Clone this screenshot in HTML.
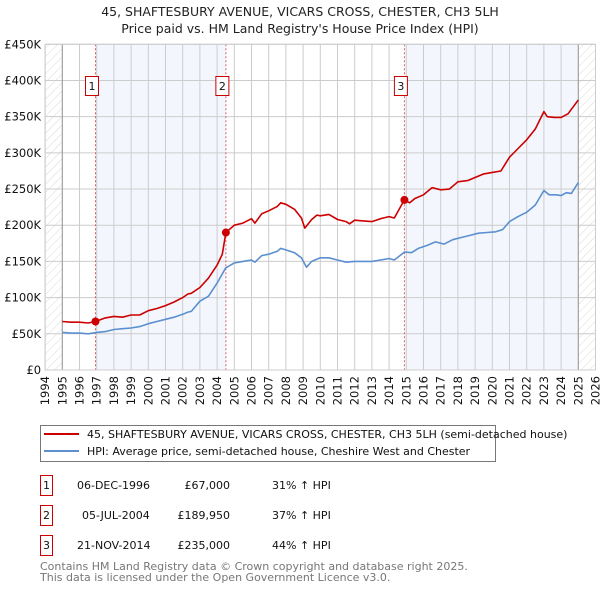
<!DOCTYPE html>
<html><head><meta charset="utf-8"><style>
body{margin:0;background:#fff;font-family:"Liberation Sans","DejaVu Sans",sans-serif;}
svg{display:block}
text{font-family:"DejaVu Sans","Liberation Sans",sans-serif;}
</style></head><body>
<svg id="chart" width="600" height="590" viewBox="0 0 600 590">
<defs>
<pattern id="hatch" width="6" height="6" patternUnits="userSpaceOnUse" patternTransform="rotate(45)">
<rect width="6" height="6" fill="#fff"/><line x1="0" y1="0" x2="0" y2="6" stroke="#d0d0d0" stroke-width="0.8"/></pattern>
</defs>
<text x="300" y="16" text-anchor="middle" font-size="12.5" fill="#222">45, SHAFTESBURY AVENUE, VICARS CROSS, CHESTER, CH3 5LH</text>
<text x="300" y="33" text-anchor="middle" font-size="12.5" fill="#222">Price paid vs. HM Land Registry's House Price Index (HPI)</text>
<g id="plot"></g>
<g>
<rect x="40.5" y="425.5" width="455" height="36" fill="#fff" stroke="#777"/>
<line x1="44" y1="434" x2="79" y2="434" stroke="#cc0000" stroke-width="2"/>
<text x="87" y="438" font-size="11" fill="#111">45, SHAFTESBURY AVENUE, VICARS CROSS, CHESTER, CH3 5LH (semi-detached house)</text>
<line x1="44" y1="451" x2="79" y2="451" stroke="#5b8fd0" stroke-width="2"/>
<text x="87" y="455" font-size="11" fill="#111">HPI: Average price, semi-detached house, Cheshire West and Chester</text>
</g>
<g id="table" font-size="11" fill="#111">
<rect x="40.5" y="475.5" width="12" height="20" fill="#fff" stroke="#cc0000"/><text x="46.5" y="489" text-anchor="middle">1</text>
<text x="77" y="489">06-DEC-1996</text><text x="230" y="489" text-anchor="end">£67,000</text><text x="272" y="489">31% ↑ HPI</text>
<rect x="40.5" y="505.5" width="12" height="20" fill="#fff" stroke="#cc0000"/><text x="46.5" y="519" text-anchor="middle">2</text>
<text x="82" y="519">05-JUL-2004</text><text x="230" y="519" text-anchor="end">£189,950</text><text x="272" y="519">37% ↑ HPI</text>
<rect x="40.5" y="535.5" width="12" height="20" fill="#fff" stroke="#cc0000"/><text x="46.5" y="549" text-anchor="middle">3</text>
<text x="77" y="549">21-NOV-2014</text><text x="230" y="549" text-anchor="end">£235,000</text><text x="272" y="549">44% ↑ HPI</text>
</g>
<text x="40" y="570" font-size="11" fill="#777">Contains HM Land Registry data © Crown copyright and database right 2025.</text>
<text x="40" y="581" font-size="11" fill="#777">This data is licensed under the Open Government Licence v3.0.</text>
</svg>
<script>
const yTicks=[0,50,100,150,200,250,300,350,400,450];
const yTickLabels=["£0","£50K","£100K","£150K","£200K","£250K","£300K","£350K","£400K","£450K"];
const xYears=[1994,1995,1996,1997,1998,1999,2000,2001,2002,2003,2004,2005,2006,2007,2008,2009,2010,2011,2012,2013,2014,2015,2016,2017,2018,2019,2020,2021,2022,2023,2024,2025,2026];
const saleDates=[1996.93,2004.51,2014.89];
const salePrices=[67,189.95,235];
const saleLabels=["1","2","3"];
const redT=[1995.0,1995.5,1996.0,1996.5,1996.93,1997.5,1998.0,1998.5,1999.0,1999.5,2000.0,2000.5,2001.0,2001.5,2002.0,2002.3,2002.5,2003.0,2003.5,2004.0,2004.3,2004.51,2005.0,2005.5,2006.0,2006.2,2006.6,2007.0,2007.5,2007.7,2008.0,2008.5,2008.9,2009.1,2009.5,2009.8,2010.0,2010.5,2011.0,2011.5,2011.7,2012.0,2012.5,2013.0,2013.5,2014.0,2014.3,2014.89,2015.2,2015.5,2016.0,2016.5,2017.0,2017.5,2018.0,2018.6,2019.0,2019.5,2020.0,2020.5,2021.0,2021.5,2022.0,2022.5,2023.0,2023.2,2023.6,2024.0,2024.4,2025.0];
const redV=[67,66,66,65,67,72,74,73,76,76,82,85,89,94,100,105,106,114,127,145,160,190,200,203,209,203,216,220,226,231,229,222,210,196,208,214,213,215,208,205,202,207,206,205,209,212,210,235,231,237,242,252,249,250,260,262,266,271,273,275,294,306,318,333,357,350,349,349,354,373];
const blueT=[1995.0,1995.5,1996.0,1996.5,1997.0,1997.5,1998.0,1998.5,1999.0,1999.5,2000.0,2000.5,2001.0,2001.5,2002.0,2002.3,2002.5,2003.0,2003.5,2004.0,2004.5,2005.0,2005.5,2006.0,2006.2,2006.6,2007.0,2007.5,2007.7,2008.0,2008.5,2008.9,2009.2,2009.5,2010.0,2010.5,2011.0,2011.5,2012.0,2012.5,2013.0,2013.5,2014.0,2014.3,2014.9,2015.3,2015.7,2016.2,2016.7,2017.2,2017.7,2018.2,2018.7,2019.2,2019.7,2020.2,2020.6,2021.0,2021.5,2022.0,2022.5,2023.0,2023.3,2023.7,2024.0,2024.3,2024.6,2025.0];
const blueV=[52,51,51,50,52,53,56,57,58,60,64,67,70,73,77,80,81,95,102,120,141,148,150,152,149,158,160,164,168,166,162,155,142,150,155,155,152,149,150,150,150,152,154,152,163,162,168,172,177,174,180,183,186,189,190,191,194,205,212,218,228,248,242,242,241,245,244,259];
const NS="http://www.w3.org/2000/svg";
const L=45.1,R=595.5,T=44.3,B=370;
const x=t=>L+(t-1994)*(R-L)/32;
const y=v=>B-v*(B-T)/450;
const g=document.getElementById('plot');
function mk(tag,attrs,parent){const e=document.createElementNS(NS,tag);for(const k in attrs)e.setAttribute(k,attrs[k]);(parent||g).appendChild(e);return e;}
let r=mk('rect',{x:x(saleDates[0]),y:T,width:x(saleDates[1])-x(saleDates[0]),height:B-T,fill:'#eef3fc',opacity:0.7});


r=mk('rect',{x:x(saleDates[2]),y:T,width:x(2025)-x(saleDates[2]),height:B-T,fill:'#eef3fc',opacity:0.7});


r=mk('rect',{x:x(1994),y:T,width:x(1995)-x(1994),height:B-T,fill:'url(#hatch)'});


r=mk('rect',{x:x(2025),y:T,width:x(2026)-x(2025),height:B-T,fill:'url(#hatch)'});


xYears.forEach(yr=>{
 const l=mk('line',{x1:x(yr),x2:x(yr),y1:T,y2:B,stroke:'#ccc','stroke-width':1});
 
 
 const t=mk('text',{x:0,y:0,'font-size':11.5,fill:'#111','text-anchor':'end',transform:`translate(${x(yr)+4},${B+6}) rotate(-90)`});
 t.textContent=yr;
 
 
});
yTicks.forEach((v,i)=>{
 const l=mk('line',{x1:L,x2:R,y1:y(v),y2:y(v),stroke:'#ccc','stroke-width':1});
 
 
 const t=mk('text',{x:L-4,y:y(v)+4,'font-size':11.5,fill:'#111','text-anchor':'end'});
 t.textContent=yTickLabels[i];
 
 
});
[1995,2025].forEach(yr=>{const l=mk('line',{x1:x(yr),x2:x(yr),y1:T,y2:B,stroke:'#999','stroke-width':1});
 
 });
saleDates.forEach((d,i)=>{
 const l=mk('line',{x1:x(d),x2:x(d),y1:T,y2:B,stroke:'#e06060','stroke-width':1,'stroke-dasharray':'2,2'});
 
 
});
function path(ts,vs,color,name){
 const d=ts.map((t,i)=>(i?'L':'M')+x(t).toFixed(1)+','+y(vs[i]).toFixed(1)).join('');
 const p=mk('path',{d:d,fill:'none',stroke:color,'stroke-width':1.6,'stroke-linejoin':'round'});
 
 
}
path(blueT,blueV,'#5b8fd0','hpi-line');
path(redT,redV,'#cc0000','property-line');
saleDates.forEach((d,i)=>{
 const c=mk('circle',{cx:x(d),cy:y(salePrices[i]),r:4,fill:'#cc0000'});
 
 
 const b=mk('rect',{x:x(d)-10,y:76.5,width:13,height:19,fill:'#fff',stroke:'#cc0000'});
 
 
 const t=mk('text',{x:x(d)-3.5,y:90,'font-size':11,fill:'#111','text-anchor':'middle'});
 t.textContent=saleLabels[i];
 
 
});
const fr=mk('rect',{x:L,y:T,width:R-L,height:B-T,fill:'none',stroke:'#ccc'});


</script>
</body></html>
